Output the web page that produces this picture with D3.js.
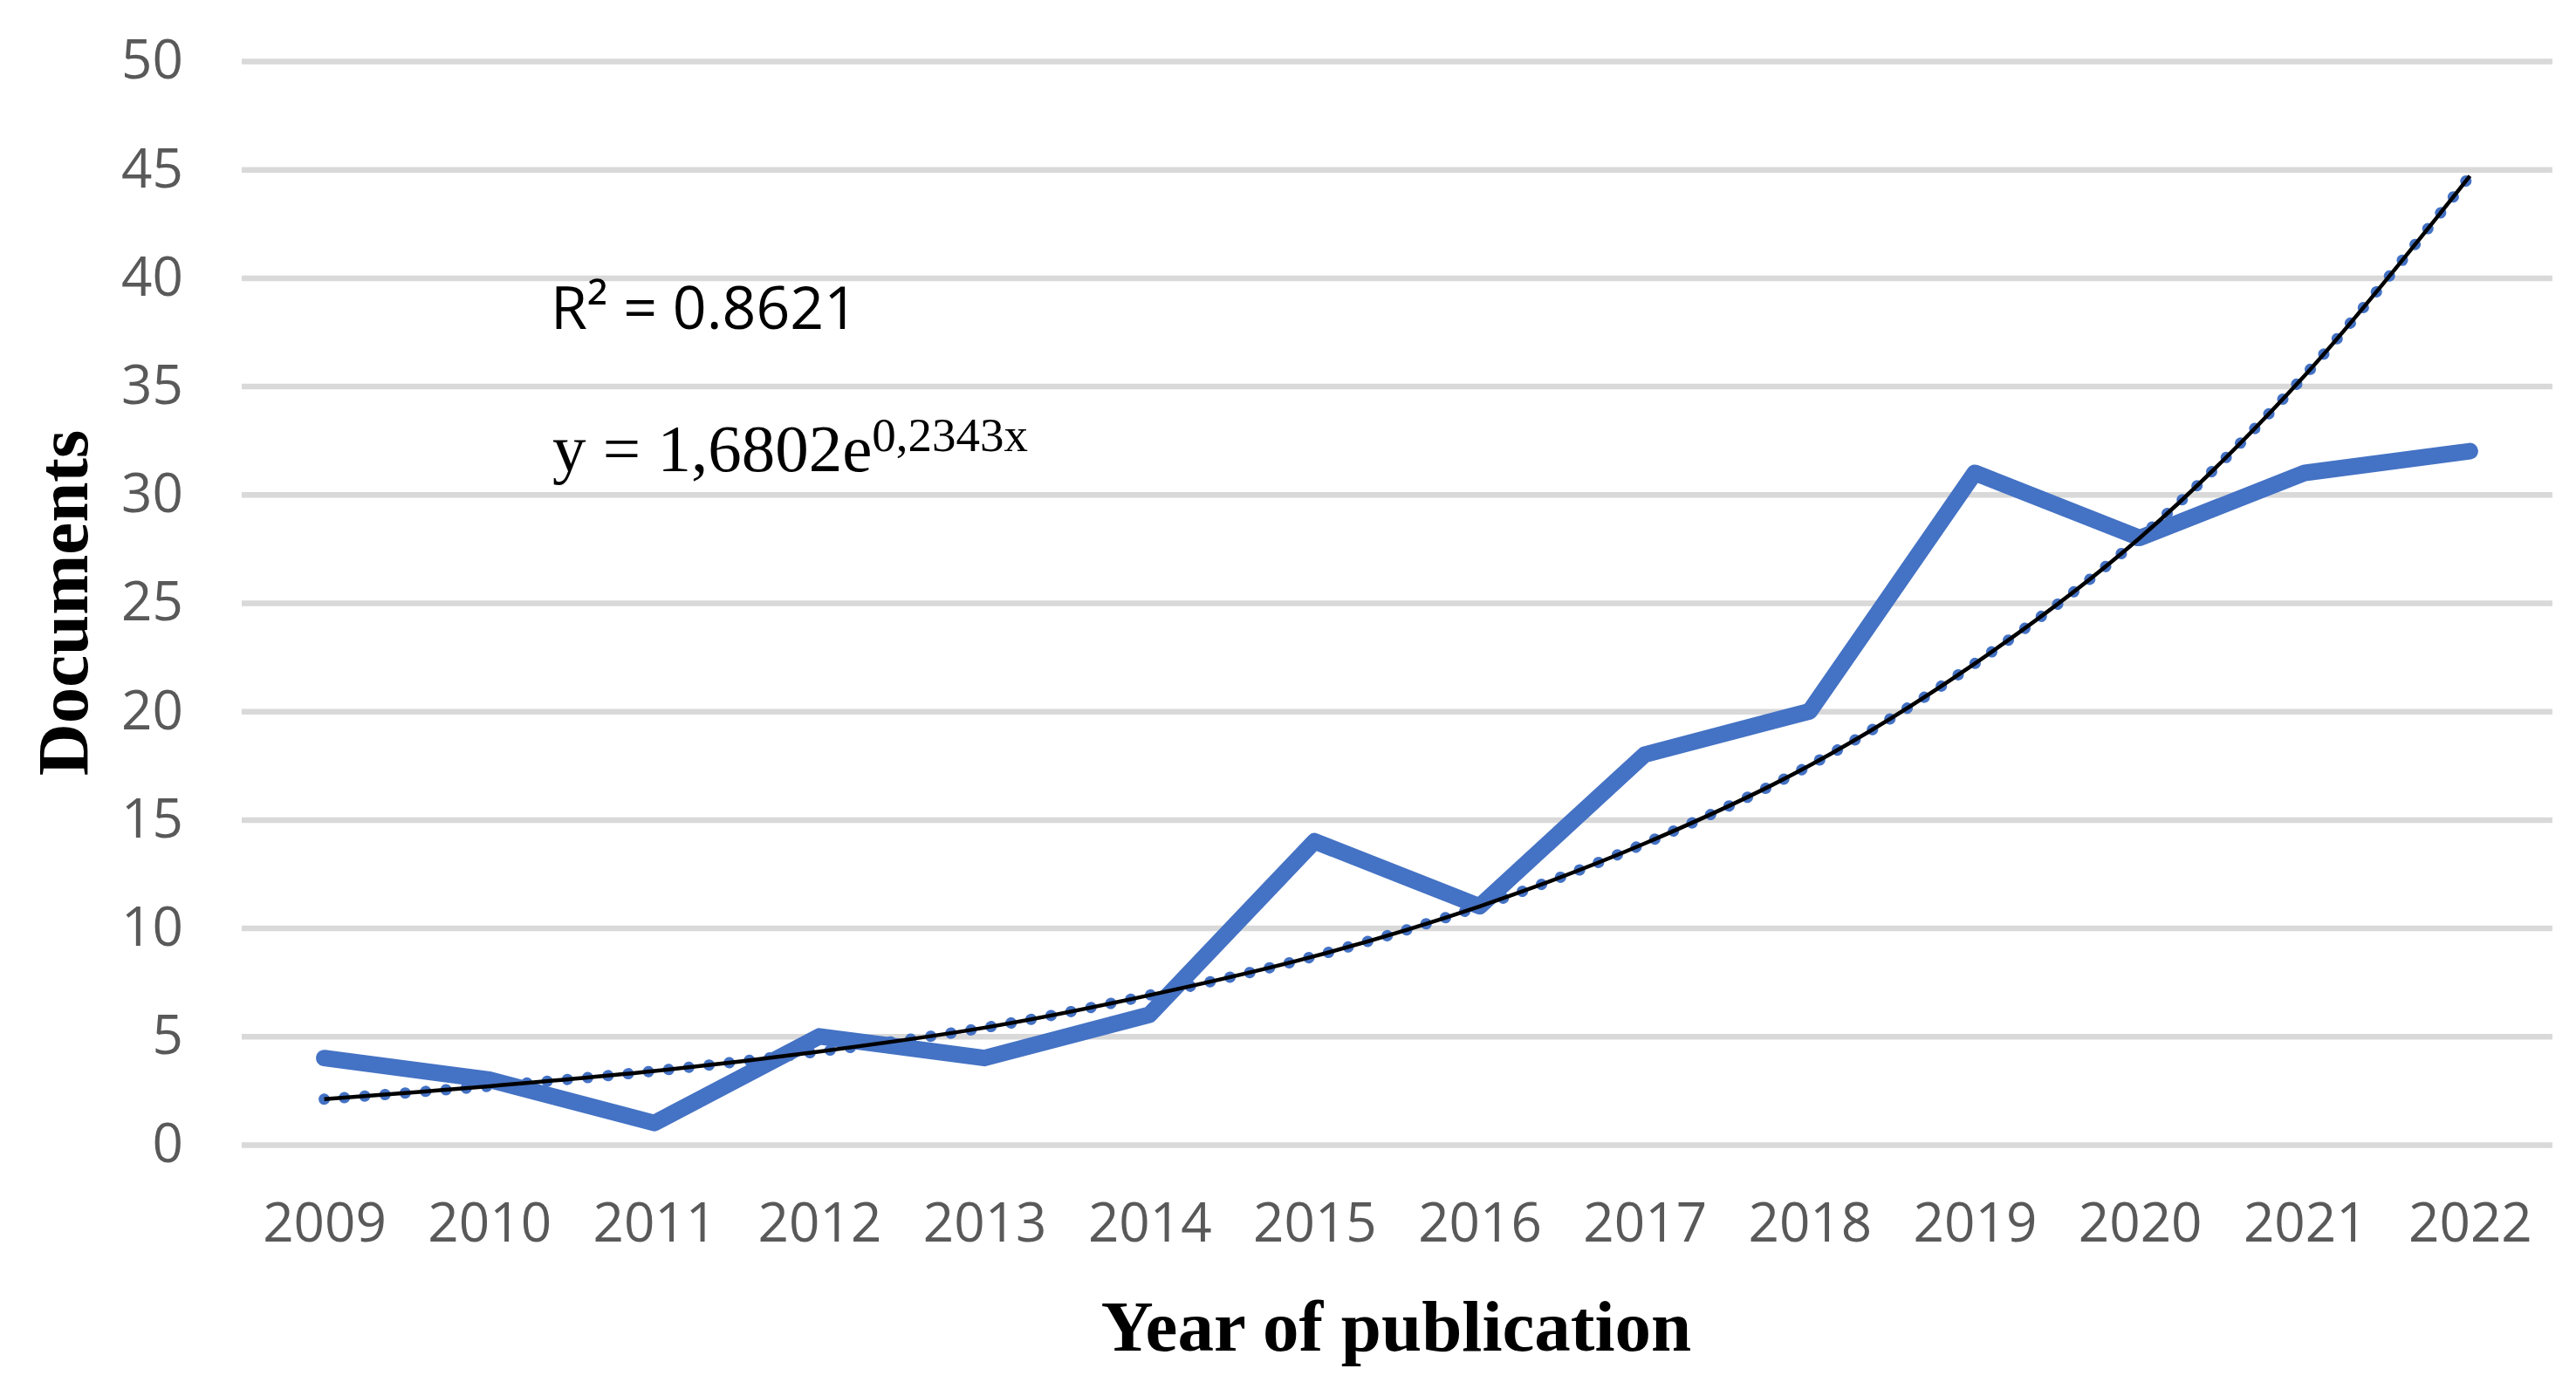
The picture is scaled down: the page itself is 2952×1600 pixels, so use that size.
<!DOCTYPE html>
<html>
<head>
<meta charset="utf-8">
<script src="https://cdn.jsdelivr.net/npm/d3@7"></script>
<style>
  html, body { margin: 0; padding: 0; background: #fff; }
  svg { display: block; }
</style>
</head>
<body>
<script>
// ---- data ----
const years = ["2009","2010","2011","2012","2013","2014","2015","2016","2017","2018","2019","2020","2021","2022"];
const documents = [4, 3, 1, 5, 4, 6, 14, 11, 18, 20, 31, 28, 31, 32];
// exponential trendline values
const trendValues = [2.1, 2.7, 3.4, 4.3, 5.4, 6.9, 8.7, 11.0, 13.9, 17.5, 22.2, 28.0, 35.5, 44.7];
const yTicks = [0, 5, 10, 15, 20, 25, 30, 35, 40, 45, 50];
const r2Label = "R² = 0.8621";
const eqMain = "y = 1,6802e";
const eqExp = "0,2343x";
const xTitle = "Year of publication";
const yTitle = "Documents";

// ---- layout ----
const W = 2952, H = 1600;
const plotLeft = 277, plotRight = 2925, plotTop = 70, plotBottom = 1312;

const svg = d3.select("body").append("svg")
  .attr("width", W).attr("height", H)
  .attr("viewBox", `0 0 ${W} ${H}`);

const x = d3.scalePoint().domain(years).range([plotLeft, plotRight]).padding(0.5);
const y = d3.scaleLinear().domain([0, 50]).range([plotBottom, plotTop]);

// gridlines + y labels
const yAxis = svg.append("g")
  .attr("transform", `translate(${plotLeft},0)`)
  .call(d3.axisLeft(y).tickValues(yTicks).tickSizeInner(-(plotRight - plotLeft)).tickSizeOuter(0).tickPadding(67));
yAxis.select(".domain").remove();
yAxis.selectAll(".tick line").attr("stroke", "#d9d9d9").attr("stroke-width", 6.5);
yAxis.selectAll(".tick text")
  .attr("fill", "#595959")
  .style("font-family", "'Open Sans', sans-serif")
  .style("font-size", "62px");

// x labels
const xAxis = svg.append("g")
  .attr("transform", `translate(0,${plotBottom})`)
  .call(d3.axisBottom(x).tickSize(0).tickPadding(67));
xAxis.select(".domain").remove();
xAxis.selectAll(".tick text")
  .attr("fill", "#595959")
  .style("font-family", "'Open Sans', sans-serif")
  .style("font-size", "62px");

// data line
const line = d3.line().x((d, i) => x(years[i])).y(d => y(d));
svg.append("path")
  .datum(documents)
  .attr("d", line)
  .attr("fill", "none")
  .attr("stroke", "#4472C4")
  .attr("stroke-width", 19)
  .attr("stroke-linecap", "round")
  .attr("stroke-linejoin", "round");

// trendline (blue round dots + black line)
const trendLine = d3.line().x((d, i) => x(years[i])).y(d => y(d)).curve(d3.curveCatmullRom);
svg.append("path")
  .datum(trendValues)
  .attr("d", trendLine)
  .attr("fill", "none")
  .attr("stroke", "#4472C4")
  .attr("stroke-width", 13)
  .attr("stroke-linecap", "round")
  .attr("stroke-dasharray", "0.1 23.2");
svg.append("path")
  .datum(trendValues)
  .attr("d", trendLine)
  .attr("fill", "none")
  .attr("stroke", "#000")
  .attr("stroke-width", 4.5);

// R² label
svg.append("text")
  .attr("x", 631).attr("y", 377)
  .attr("fill", "#000")
  .style("font-family", "'Open Sans', sans-serif")
  .style("font-size", "68px")
  .text(r2Label);

// equation
const eq = svg.append("text")
  .attr("x", 633).attr("y", 540)
  .attr("fill", "#000")
  .style("font-family", "'Liberation Serif', 'Times New Roman', serif")
  .style("font-size", "77px");
eq.append("tspan").text(eqMain);
eq.append("tspan").attr("dy", -23).style("font-size", "55px").text(eqExp);

// axis titles
svg.append("text")
  .attr("x", 1600).attr("y", 1548)
  .attr("text-anchor", "middle")
  .attr("fill", "#000")
  .style("font-family", "'Liberation Serif', 'Times New Roman', serif")
  .style("font-weight", "bold")
  .style("font-size", "83px")
  .text(xTitle);

svg.append("text")
  .attr("transform", "translate(100,691) rotate(-90)")
  .attr("text-anchor", "middle")
  .attr("fill", "#000")
  .style("font-family", "'Liberation Serif', 'Times New Roman', serif")
  .style("font-weight", "bold")
  .style("font-size", "83px")
  .text(yTitle);
</script>
</body>
</html>
